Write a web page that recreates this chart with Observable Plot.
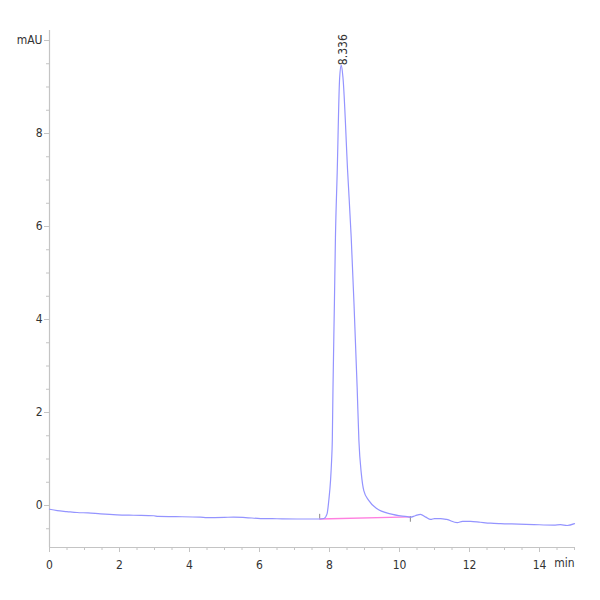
<!DOCTYPE html>
<html>
<head>
<meta charset="utf-8">
<script src="https://cdn.jsdelivr.net/npm/d3@7"></script>
<script src="https://cdn.jsdelivr.net/npm/@observablehq/plot@0.6"></script>
<style>
  html, body { margin: 0; padding: 0; background: #fff; }
  #chart svg { display: block; }
</style>
</head>
<body>
<div id="chart"></div>
<script>
// Retention time (min) and absorbance (mAU)
const time = [0, 0.22, 0.5, 0.79, 1.1, 1.46, 1.93, 2.4, 2.98, 3.1, 3.6, 4.31, 4.5, 5.0, 5.26, 5.6, 6.03, 6.5, 7.17, 7.6, 7.74,
  7.84, 7.93, 7.98, 8.03, 8.06, 8.08, 8.10, 8.14, 8.17, 8.22, 8.29, 8.336, 8.385, 8.52, 8.62, 8.70, 8.79, 8.84, 8.91, 8.98, 9.12, 9.36, 9.74, 10.22, 10.31,
  10.45, 10.6, 10.75, 10.89, 11.0, 11.17, 11.35, 11.65, 11.8, 12.03, 12.31, 12.6, 12.89, 13.4, 13.84, 14.41, 14.6, 14.79, 15.0];
const signal = [-0.08, -0.11, -0.13, -0.15, -0.16, -0.18, -0.20, -0.21, -0.22, -0.235, -0.24, -0.25, -0.26, -0.255, -0.25, -0.26, -0.28, -0.285, -0.29, -0.29, -0.29,
  -0.28, -0.18, 0.11, 0.54, 0.97, 1.40, 2.54, 4.34, 5.77, 7.16, 9.2, 9.47, 9.2, 7.16, 5.77, 4.34, 2.54, 1.40, 0.68, 0.32, 0.11, -0.07, -0.18, -0.24, -0.25,
  -0.22, -0.19, -0.25, -0.3, -0.28, -0.28, -0.3, -0.37, -0.34, -0.34, -0.36, -0.38, -0.39, -0.40, -0.41, -0.42, -0.41, -0.43, -0.39];

// Integration baseline (start, end)
const baseTime = [7.72, 10.31];
const baseSignal = [-0.29, -0.245];
const markTop = [-0.19, -0.24];
const markBottom = [-0.29, -0.36];

// Peak annotation
const peakTime = [8.336];
const peakSignal = [9.47];
const peakLabel = ["8.336"];

// Axis ticks
const xMajor = [0, 2, 4, 6, 8, 10, 12, 14];
const xMinor = d3.range(0, 15.01, 0.5);
const yMajor = [0, 2, 4, 6, 8, 10];
const yMinor = d3.range(-0.5, 10.01, 0.5);
const xUnit = "min";
const yUnit = "mAU";

const trace = time.map((t, i) => ({t, v: signal[i]}));
const base = baseTime.map((t, i) => ({t, v: baseSignal[i], top: markTop[i], bottom: markBottom[i]}));
const peaks = peakTime.map((t, i) => ({t, v: peakSignal[i], label: peakLabel[i]}));

const axisColor = "#c4c4c4";
const textColor = "#333";
const font = "'Liberation Sans Narrow', 'DejaVu Sans Condensed', 'Liberation Sans', sans-serif";

const chart = Plot.plot({
  width: 600,
  height: 600,
  marginLeft: 49,
  marginRight: 26,
  marginTop: 30,
  marginBottom: 53,
  style: {fontFamily: font, fontSize: "12px", color: textColor, background: "#fff"},
  x: {domain: [0, 15], label: null},
  y: {domain: [-0.903, 10.215], label: null},
  marks: [
    Plot.ruleX([0], {stroke: axisColor, strokeWidth: 1.2}),
    Plot.ruleY([-0.903], {stroke: axisColor, strokeWidth: 1.2}),
    Plot.axisX(xMinor, {tickSize: 3, tickFormat: () => "", stroke: axisColor, strokeWidth: 1, label: null}),
    Plot.axisX(xMajor, {tickSize: 5, tickPadding: 8, stroke: axisColor, strokeWidth: 1, fill: textColor, fontSize: 12, label: null}),
    Plot.axisY(yMinor, {tickSize: 3, tickFormat: () => "", stroke: axisColor, strokeWidth: 1, label: null}),
    Plot.axisY(yMajor, {tickSize: 5, tickPadding: 2, stroke: axisColor, strokeWidth: 1, fill: textColor, fontSize: 12, label: null,
      tickFormat: d => d === 10 ? yUnit : String(d)}),
    Plot.text([xUnit], {x: 15, frameAnchor: "bottom", y: -0.903, dy: 19, textAnchor: "end", text: d => d, fill: textColor, fontSize: 12}),
    Plot.line(base, {x: "t", y: "v", stroke: "#ff80e0", strokeWidth: 1.3}),
    Plot.ruleX(base, {x: "t", y1: "top", y2: "bottom", stroke: "#888", strokeWidth: 1}),
    Plot.line(trace, {x: "t", y: "v", stroke: "#9494ff", strokeWidth: 1.2, curve: "monotone-x"}),
    Plot.text(peaks, {x: "t", y: "v", text: "label", rotate: -90, textAnchor: "start", dy: 0, dx: 2, fill: textColor, fontSize: 12})
  ]
});
document.getElementById("chart").appendChild(chart);
</script>
</body>
</html>
